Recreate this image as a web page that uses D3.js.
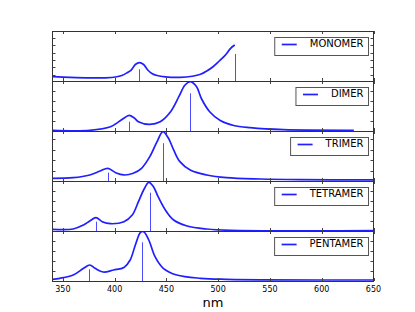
<!DOCTYPE html>
<html>
<meta charset="utf-8">
<head>
<title>Oligomer spectra</title>
<style>
body { margin: 0; background: #fff; }
svg { display: block; font-family: "DejaVu Sans", sans-serif; }
.frame { fill: none; stroke: #333; stroke-width: 1px; }
.tick { stroke: #444; stroke-width: 1px; }
.spec { fill: none; stroke: #1f1fff; stroke-width: 1.7px; }
.stem { stroke: #4d4dff; stroke-width: 1px; }
.legBox { fill: #fff; stroke: #555; stroke-width: 1px; }
.legText { font-size: 10px; fill: #000; }
.tickLabel { font-size: 8px; fill: #000; text-anchor: middle; }
</style>
</head>
<body>
<script src="https://cdn.jsdelivr.net/npm/d3@7"></script>
<script>

// wavelengths (nm) and intensities
var monomerWl  = [340, 357, 376, 391, 401, 407, 412, 416, 420, 424, 428, 432, 436, 441, 449, 463, 475, 483, 489, 495, 501, 507, 512, 516];
var monomerAb  = [0.143, 0.126, 0.113, 0.113, 0.134, 0.175, 0.25, 0.325, 0.475, 0.524, 0.475, 0.325, 0.23, 0.175, 0.14, 0.126, 0.154, 0.208, 0.298, 0.415, 0.571, 0.734, 0.917, 1.007];
var dimerWl    = [340, 376, 396, 405, 410, 414, 419, 423, 434, 444, 454, 462, 468, 473, 479, 484, 492, 502, 515, 531, 563, 631];
var dimerAb    = [0.07, 0.07, 0.43, 1.0, 1.35, 1.57, 1.3, 0.93, 0.67, 0.93, 1.93, 3.43, 4.6, 4.93, 4.45, 3.2, 1.9, 1.05, 0.55, 0.33, 0.13, 0.07];
var trimerWl   = [340, 360, 376, 386, 393.5, 401, 409, 418, 426, 434, 441, 446.6, 452, 457, 463, 473, 489, 508, 541, 579, 650];
var trimerAb   = [0.26, 0.32, 0.58, 0.96, 1.22, 0.8, 0.58, 0.74, 1.22, 2.34, 3.78, 4.74, 4.1, 2.98, 1.86, 1.06, 0.58, 0.32, 0.19, 0.13, 0.1];
var tetramerWl = [340, 360, 370, 376, 382, 388, 396, 409, 417, 423, 428, 433, 437.5, 442, 449, 457, 470, 489, 512, 650];
var tetramerAb = [0.17, 0.2, 0.6, 1.0, 1.33, 0.93, 0.73, 0.93, 1.6, 2.93, 4.1, 4.87, 4.43, 3.43, 2.1, 1.1, 0.5, 0.2, 0.07, 0.05];
var pentamerWl = [340, 347, 360, 370, 376, 381, 389, 399, 409, 415, 420, 425, 428, 433, 439, 447, 460, 483, 508, 650];
var pentamerAb = [0.17, 0.27, 0.6, 1.27, 1.6, 1.27, 0.9, 1.1, 1.35, 2.1, 3.6, 4.87, 4.93, 4.1, 2.43, 1.27, 0.6, 0.27, 0.17, 0.1];

// stick transitions
var monomerStickWl  = [424, 516];
var monomerStickH   = [0.344, 0.762];
var dimerStickWl    = [414, 473];
var dimerStickH     = [0.93, 3.77];
var trimerStickWl   = [393.5, 446.6];
var trimerStickH    = [0.8, 3.63];
var tetramerStickWl = [382, 433.7];
var tetramerStickH  = [0.93, 3.83];
var pentamerStickWl = [375.7, 426.6];
var pentamerStickH  = [1.17, 3.87];

var names = ["MONOMER", "DIMER", "TRIMER", "TETRAMER", "PENTAMER"];
var yDomains = [[0.025, 1.39], [0, 5], [0, 4.8], [0, 5], [0, 5]];
var yTickVals = [[0.2, 0.4, 0.6, 0.8, 1.0, 1.2], [1, 2, 3, 4], [1, 2, 3, 4], [1, 2, 3, 4], [1, 2, 3, 4]];
var xTickVals = [350, 400, 450, 500, 550, 600, 650];

var curves = [
  {wl: monomerWl, ab: monomerAb, sw: monomerStickWl, sh: monomerStickH},
  {wl: dimerWl, ab: dimerAb, sw: dimerStickWl, sh: dimerStickH},
  {wl: trimerWl, ab: trimerAb, sw: trimerStickWl, sh: trimerStickH},
  {wl: tetramerWl, ab: tetramerAb, sw: tetramerStickWl, sh: tetramerStickH},
  {wl: pentamerWl, ab: pentamerAb, sw: pentamerStickWl, sh: pentamerStickH}
];

var width = 415, height = 312;
var left = 52.5, right = 373.5, top0 = 31, panelH = 50;

var svg = d3.select("body").append("svg")
    .attr("width", width)
    .attr("height", height);

svg.append("rect").attr("width", width).attr("height", height).attr("fill", "#fff");

var x = d3.scaleLinear().domain([340, 650]).range([left, right]);

curves.forEach(function(c, i) {
  var py = top0 + i * panelH;
  var y = d3.scaleLinear().domain(yDomains[i]).range([py + panelH, py]);

  var g = svg.append("g");

  g.append("clipPath").attr("id", "clip" + i)
    .append("rect")
    .attr("x", left).attr("y", py)
    .attr("width", right - left).attr("height", panelH);

  var pts = c.wl.map(function(w, k) { return [w, c.ab[k]]; });

  var line = d3.line()
    .x(function(d) { return x(d[0]); })
    .y(function(d) { return y(d[1]); })
    .curve(d3.curveCatmullRom.alpha(0.5));

  var body = g.append("g").attr("clip-path", "url(#clip" + i + ")");

  body.selectAll(".stem")
    .data(c.sw).enter()
    .append("line")
    .attr("class", "stem")
    .attr("x1", function(d) { return Math.round(x(d)) + 0.5; })
    .attr("x2", function(d) { return Math.round(x(d)) + 0.5; })
    .attr("y1", py + panelH)
    .attr("y2", function(d, k) { return y(c.sh[k]); });

  body.append("path")
    .datum(pts)
    .attr("class", "spec")
    .attr("d", line);

  // inward ticks, left/right
  yTickVals[i].forEach(function(v) {
    var yy = Math.round(y(v)) + 0.5;
    g.append("line").attr("class", "tick")
      .attr("x1", left).attr("x2", left + 3).attr("y1", yy).attr("y2", yy);
    g.append("line").attr("class", "tick")
      .attr("x1", right - 3).attr("x2", right).attr("y1", yy).attr("y2", yy);
  });

  // inward ticks, top/bottom
  xTickVals.forEach(function(v) {
    var xx = Math.round(x(v)) + 0.5;
    g.append("line").attr("class", "tick")
      .attr("x1", xx).attr("x2", xx).attr("y1", py).attr("y2", py + 3);
    g.append("line").attr("class", "tick")
      .attr("x1", xx).attr("x2", xx).attr("y1", py + panelH - 3).attr("y2", py + panelH);
  });

  g.append("rect")
    .attr("class", "frame")
    .attr("x", left).attr("y", py + 0.5)
    .attr("width", right - left).attr("height", panelH);

  // legend
  var leg = g.append("g");
  var box = leg.append("rect").attr("class", "legBox");
  var txt = leg.append("text")
    .attr("class", "legText")
    .attr("y", py + 16)
    .text(names[i]);
  var tw = txt.node().getComputedTextLength();
  var boxR = 368.5, boxW = tw + 40;
  txt.attr("x", boxR - 5 - tw);
  box.attr("x", boxR - boxW).attr("y", py + 6.5)
    .attr("width", boxW).attr("height", 18);
  leg.append("line")
    .attr("class", "spec")
    .attr("x1", boxR - boxW + 7).attr("x2", boxR - boxW + 22)
    .attr("y1", py + 13.5).attr("y2", py + 13.5);
});

// x tick labels on the bottom panel
var bottom = top0 + 5 * panelH;
svg.selectAll(".tickLabel")
  .data(xTickVals).enter()
  .append("text")
  .attr("class", "tickLabel")
  .attr("x", function(d) { return x(d); })
  .attr("y", bottom + 11)
  .text(function(d) { return d; });

svg.append("text")
  .attr("x", (left + right) / 2)
  .attr("y", bottom + 26)
  .style("text-anchor", "middle")
  .style("font-size", "13px")
  .text("nm");

</script>
</body>
</html>
